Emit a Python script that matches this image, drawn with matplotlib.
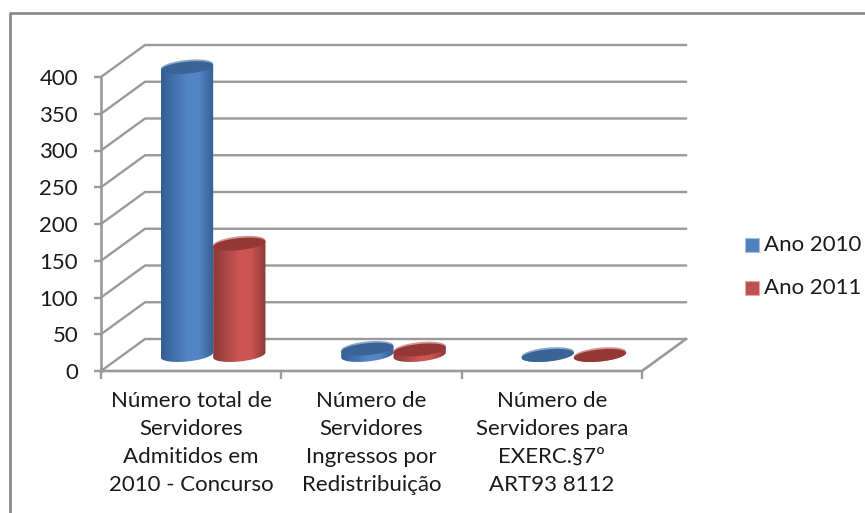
import matplotlib
matplotlib.use('Agg')
import matplotlib.pyplot as plt
import numpy as np
from matplotlib.patches import PathPatch, Polygon, Rectangle
from matplotlib.path import Path
from matplotlib.colors import LinearSegmentedColormap

plt.rcParams['font.family'] = ['Lato', 'DejaVu Sans']

categories = ['Número total de\nServidores\nAdmitidos em\n2010 - Concurso',
              'Número de\nServidores\nIngressos por\nRedistribuição',
              'Número de\nServidores para\nEXERC.§7º\nART93 8112']
series_names = ['Ano 2010', 'Ano 2011']
ano_2010 = [392, 9, 0.5]
ano_2011 = [152, 8, 0.5]
y_ticks = [0, 50, 100, 150, 200, 250, 300, 350, 400]

W, H = 865, 513
# pixel box of the front plane
left, right, top, bottom = 101, 642, 77, 371
px_x = (right - left) / 3
px_y = (bottom - top) / 400
# 3d depth of the box, in data units
depth_x = 44 / px_x
depth_y = 32 / px_y

GRAY = '#9a9a9a'
TEXT = '#1a1a1a'

fig = plt.figure(figsize=(W / 100, H / 100), dpi=100)
ax = fig.add_axes([left / W, 1 - bottom / H, (right - left) / W, (bottom - top) / H])
ax.set_facecolor('none')
for s in ax.spines.values():
    s.set_visible(False)

# walls and gridlines
for v in y_ticks:
    ax.plot([0, depth_x, 3 + depth_x], [v, v + depth_y, v + depth_y], color=GRAY, lw=1.7,
            clip_on=False, zorder=1, solid_joinstyle='miter')
ax.plot([0, 3, 3 + depth_x], [0, 0, depth_y], color=GRAY, lw=1.9, clip_on=False, zorder=1)
ax.plot([0, 0], [0, 400], color=GRAY, lw=1.9, clip_on=False, zorder=1)


def ellipse_pts(cx, cy, w, ry, a):
    # ellipse sheared a bit, the right end sits higher than the left one
    shear = 2.5 / px_y
    return np.column_stack([cx + w / 2 * np.cos(a), cy + ry * np.sin(a) + shear * np.cos(a)])


def cylinder(x0, value, dark, mid, top_color, rim):
    # one shaded cylinder, standing half way into the depth of the box
    w = 0.29
    xl = x0 + 0.21 + depth_x / 2
    yb = depth_y / 2
    yt = yb + value
    ry = 6.5 / px_y
    cx = xl + w / 2
    cmap = LinearSegmentedColormap.from_list('c', [(0, dark), (0.5, mid), (0.72, mid), (1, dark)])
    t = np.linspace(0, 1, 100)[None, :]
    im = ax.imshow(t, extent=[xl, xl + w, yb - 2 * ry, yt + 2 * ry], cmap=cmap, aspect='auto', zorder=3)
    # body outline: bottom half ellipse, straight sides
    pts = ellipse_pts(cx, yb, w, ry, np.linspace(np.pi, 2 * np.pi, 40))
    end = ellipse_pts(cx, yt, w, ry, np.array([0, np.pi]))
    outline = np.vstack([pts, end, pts[:1]])
    body = PathPatch(Path(outline), transform=ax.transData, fc='none', ec='none')
    ax.add_patch(body)
    im.set_clip_box(fig.bbox)
    im.set_clip_path(body)
    a = np.linspace(0, 2 * np.pi, 80)
    ax.add_patch(Polygon(ellipse_pts(cx, yt + 0.5 / px_y, w, ry, a), fc=rim, ec='none', zorder=4, clip_on=False))
    ax.add_patch(Polygon(ellipse_pts(cx, yt - 0.8 / px_y, w, ry - 0.5 / px_y, a), fc=top_color, ec='none',
                         zorder=4, clip_on=False))


for i in range(3):
    cylinder(i, ano_2010[i], '#335f94', '#5384c4', '#3a6496', '#8aa8cc')
    cylinder(i + 0.29, ano_2011[i], '#8c3a38', '#cc5452', '#953735', '#d09a98')

ax.set_xlim(0, 3)
ax.set_ylim(0, 400)
ax.set_xticks([0, 1, 2, 3])
ax.set_xticklabels([])
ax.set_yticks(y_ticks)
ax.tick_params(axis='y', length=5, width=1.7, color=GRAY, labelsize=16, labelcolor=TEXT, pad=11.5)
ax.tick_params(axis='x', length=6, width=1.7, color=GRAY)
for i, c in enumerate(categories):
    ax.text(i + 0.5, -20 / px_y, c, ha='center', va='top', fontsize=16, color=TEXT,
            linespacing=1.5, clip_on=False)

# outer chart frame, drawn on the figure
fig.add_artist(plt.Line2D([9.5 / W, 9.5 / W, 1], [0, 1 - 13 / H, 1 - 13 / H], color='#8c8c8c', lw=2))

# legend
for name, col, ec, yy in zip(series_names, ['#4f81bd', '#c0504d'], ['#a9c1de', '#e0a8a6'], [245, 288]):
    fig.add_artist(Rectangle((745 / W, 1 - (yy + 7) / H), 14 / W, 14 / H, transform=fig.transFigure,
                             fc=col, ec=ec, lw=0.8))
    fig.text(764 / W, 1 - yy / H, name, fontsize=16, va='center', ha='left', color=TEXT)

fig.savefig('out.png', dpi=100, facecolor='white')
